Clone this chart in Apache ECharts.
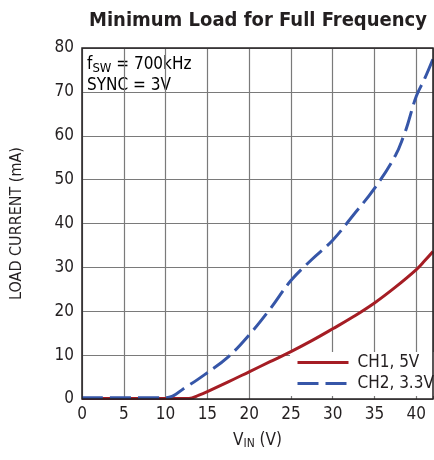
<!DOCTYPE html>
<html><head><meta charset="utf-8">
<script src="https://cdn.jsdelivr.net/npm/echarts@6/dist/echarts.min.js"></script>
<style>html,body{margin:0;padding:0;background:#fff}#c{width:434px;height:460px}</style>
</head><body><div id="c"></div>
<script>
const FONT = '"DejaVu Sans Condensed","Liberation Sans Narrow",sans-serif';
const titleText = 'Minimum Load for Full Frequency';
const ch1Name = 'CH1, 5V';
const ch2Name = 'CH2, 3.3V';
const ch1X = [0, 12.8, 14, 15, 17.5, 20, 22.5, 25, 27.5, 30, 32.5, 35, 37.5, 40, 41, 42];
const ch1Y = [0.1, 0.1, 0.9, 1.7, 3.9, 6.2, 8.5, 10.8, 13.3, 16, 18.8, 21.9, 25.5, 29.5, 31.5, 33.6];
const ch2X = [0, 10, 12.5, 15, 17.5, 20, 22.5, 25, 27.5, 30, 32.5, 35, 37.5, 38.5, 39, 40, 41, 42];
const ch2Y = [0.3, 0.3, 2.8, 6, 9.6, 14.6, 20.5, 27, 31.8, 36.2, 42, 48, 55.5, 60, 62.8, 69, 73, 77.5];
const xTicks = [0, 42, 5];
const yTicks = [0, 80, 10];

const zip = (xs, ys) => xs.map((x, i) => [x, ys[i]]);
const chart = echarts.init(document.getElementById('c'), null, {renderer: 'canvas'});
chart.setOption({
  animation: false,
  backgroundColor: '#fff',
  title: {
    text: titleText, left: 84, top: 6,
    textStyle: {fontFamily: FONT, fontWeight: 'bold', fontSize: 20, color: '#231f20'}
  },
  grid: {left: 82, top: 48, right: 1, bottom: 61, show: true, z: 5, borderColor: '#231f20', borderWidth: 1.5, backgroundColor: 'transparent'},
  xAxis: {
    type: 'value', min: xTicks[0], max: xTicks[1], interval: xTicks[2], z: 0,
    axisLine: {show: false}, axisTick: {show: false},
    splitLine: {lineStyle: {color: '#7a7a7a', width: 1.2}},
    axisLabel: {showMaxLabel: false, fontFamily: FONT, fontSize: 17, color: '#231f20', margin: 7},
    name: '{a|V}{b|IN}{a| (V)}', nameLocation: 'middle', nameGap: 33,
    nameTextStyle: {rich: {
      a: {fontFamily: FONT, fontSize: 17, color: '#231f20'},
      b: {fontFamily: FONT, fontSize: 12, color: '#231f20', verticalAlign: 'bottom', padding: [6, 0, 0, 0]}
    }}
  },
  yAxis: {
    type: 'value', min: yTicks[0], max: yTicks[1], interval: yTicks[2], z: 0,
    axisLine: {show: false}, axisTick: {show: false},
    splitLine: {lineStyle: {color: '#7a7a7a', width: 1.2}},
    axisLabel: {fontFamily: FONT, fontSize: 17, color: '#231f20', margin: 8},
    name: 'LOAD CURRENT (mA)', nameLocation: 'middle', nameGap: 57, nameRotate: 90,
    nameTextStyle: {fontFamily: FONT, fontSize: 16, color: '#231f20'}
  },
  legend: {
    orient: 'vertical', left: 290, top: 352, padding: [2, 2, 4, 6], z: 2,
    backgroundColor: '#fff', itemWidth: 51, itemHeight: 14, itemGap: 4,
    itemStyle: {opacity: 0},
    lineStyle: {width: 3},
    textStyle: {fontFamily: FONT, fontSize: 17, color: '#231f20', padding: [0, 0, 0, 4]},
    data: [ch1Name, ch2Name]
  },
  graphic: [{
    type: 'group', left: 83, top: 49, z: 1,
    children: [
      {type: 'rect', shape: {x: 0, y: 0, width: 124, height: 48}, style: {fill: '#fff'}},
      {type: 'text', x: 4, y: 5, style: {
        text: '{a|f}{b|SW}{a| = 700kHz}\n{a|SYNC = 3V}',
        rich: {
          a: {fontFamily: FONT, fontSize: 17, color: '#231f20', lineHeight: 21},
          b: {fontFamily: FONT, fontSize: 13, color: '#231f20', verticalAlign: 'bottom', lineHeight: 21}
        }
      }}
    ]
  }],
  series: [
    {name: ch1Name, type: 'line', data: zip(ch1X, ch1Y), showSymbol: false, symbol: 'none',
     smooth: 0.4, lineStyle: {color: '#a51d24', width: 3}, itemStyle: {color: '#a51d24'}, z: 3},
    {name: ch2Name, type: 'line', data: zip(ch2X, ch2Y), showSymbol: false, symbol: 'none',
     smooth: 0.4, lineStyle: {color: '#3656a8', width: 3, type: [21, 7]}, itemStyle: {color: '#3656a8'}, z: 4}
  ]
});
</script></body></html>
